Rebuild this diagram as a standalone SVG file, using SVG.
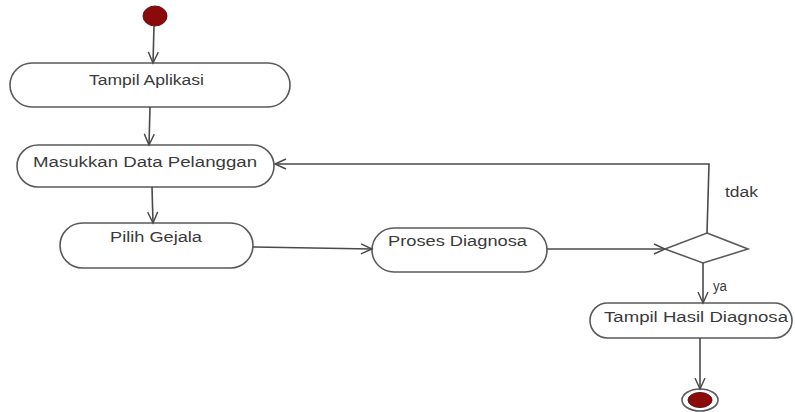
<svg xmlns="http://www.w3.org/2000/svg" width="795" height="412" viewBox="0 0 795 412">
<style>
.node{fill:#ffffff;stroke:#5a5a5a;stroke-width:1.6}
.lbl{font-family:"Liberation Sans",Arial,sans-serif;font-size:14px;fill:#3a3a3a}
.edge{fill:none;stroke:#4a4a4a;stroke-width:1.6}
.dot{fill:#8b0a0a;stroke:#6a1010;stroke-width:1}
</style>
<defs>
<marker id="arr" markerWidth="14" markerHeight="12" refX="12" refY="6" orient="auto" markerUnits="userSpaceOnUse">
<polyline points="1,1 12,6 1,11" fill="none" stroke="#4a4a4a" stroke-width="1.4"/>
</marker>
</defs>
<rect width="795" height="412" fill="#ffffff"/>
<g id="start"><ellipse class="dot" cx="155" cy="16" rx="12" ry="10"/></g>
<g id="tampil-aplikasi">
<rect class="node" x="10" y="63" width="280" height="44" rx="22"/>
<text class="lbl" x="89" y="85" textLength="115" lengthAdjust="spacingAndGlyphs">Tampil Aplikasi</text>
</g>
<g id="masukkan-data">
<rect class="node" x="17" y="145" width="257" height="42" rx="21"/>
<text class="lbl" x="33" y="167" textLength="224" lengthAdjust="spacingAndGlyphs">Masukkan Data Pelanggan</text>
</g>
<g id="pilih-gejala">
<rect class="node" x="60" y="223" width="193" height="45" rx="22.5"/>
<text class="lbl" x="110" y="242" textLength="92" lengthAdjust="spacingAndGlyphs">Pilih Gejala</text>
</g>
<g id="proses-diagnosa">
<rect class="node" x="372" y="228" width="175" height="44" rx="22"/>
<text class="lbl" x="388" y="246" textLength="139" lengthAdjust="spacingAndGlyphs">Proses Diagnosa</text>
</g>
<g id="decision">
<polygon class="node" points="707,233 748,249 703,263 665,249"/>
</g>
<g id="tampil-hasil">
<rect class="node" x="590" y="303" width="202" height="35" rx="17.5"/>
<text class="lbl" x="604" y="322" textLength="184" lengthAdjust="spacingAndGlyphs">Tampil Hasil Diagnosa</text>
</g>
<g id="end">
<ellipse cx="700" cy="400" rx="18" ry="11" fill="#ffffff" stroke="#5a5a5a" stroke-width="1.6"/>
<ellipse class="dot" cx="700" cy="400" rx="12" ry="7.5"/>
</g>
<g id="connectors">
<line class="edge" x1="154" y1="26" x2="153" y2="63" marker-end="url(#arr)"/>
<line class="edge" x1="150" y1="107" x2="149" y2="145" marker-end="url(#arr)"/>
<line class="edge" x1="152" y1="187" x2="153" y2="223" marker-end="url(#arr)"/>
<line class="edge" x1="253" y1="247" x2="372" y2="249" marker-end="url(#arr)"/>
<line class="edge" x1="547" y1="249" x2="665" y2="249" marker-end="url(#arr)"/>
<polyline class="edge" points="707,233 709,164 275,164" marker-end="url(#arr)"/>
<line class="edge" x1="703" y1="263" x2="703" y2="303" marker-end="url(#arr)"/>
<line class="edge" x1="700" y1="338" x2="700" y2="389" marker-end="url(#arr)"/>
<text class="lbl" x="725" y="197" font-size="12" textLength="33" lengthAdjust="spacingAndGlyphs">tdak</text>
<text class="lbl" x="713" y="291" font-size="12" textLength="14" lengthAdjust="spacingAndGlyphs">ya</text>
</g>
</svg>
